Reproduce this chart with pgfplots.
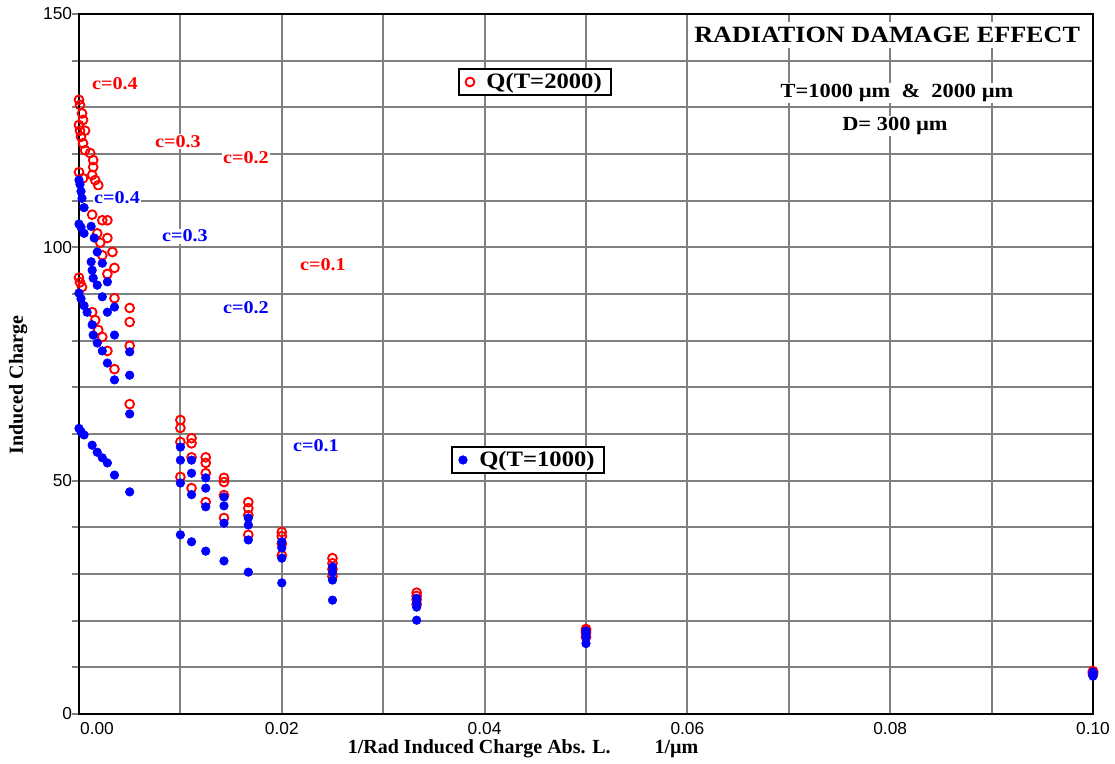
\documentclass[border=0pt]{standalone}
\usepackage{fontspec}
\setmainfont{Liberation Serif}
\newfontfamily\ticksans{Liberation Sans}
\newfontfamily\wideserif[FakeStretch=1.12]{Liberation Serif}
\usepackage{pgfplots}
\pgfplotsset{compat=1.18}
\usepackage{pgfplotstable}

\definecolor{gridgray}{RGB}{128,128,128}
\definecolor{qred}{RGB}{255,0,0}
\definecolor{qblue}{RGB}{0,0,255}

% T = 2000 (red)
\pgfplotstableread{
x y
0 131.6
0.0001 130.5
0.0003 128.7
0.0004 127.3
0.0006 125.0
0.0011 120.2
0.0014 118.7
0.0014 117.2
0.0016 114.4
0.0019 113.3
0.0023 105.8
0.0028 105.8
0.0033 99.0
0.005 87.0
0.01 63.0
0.0111 59.1
0.0125 55.0
0.0143 50.6
0.0167 45.4
0.02 39.0
0.025 33.4
0.0333 26.0
0.05 18.2
0.1 9.2
0 126.2
0.0001 125.0
0.0002 123.7
0.0004 122.3
0.0006 120.8
0.0013 115.5
0.0018 103.0
0.0021 101.0
0.0028 102.0
0.0035 95.6
0.005 84.0
0.01 61.3
0.0111 58.0
0.0125 53.8
0.0143 49.7
0.0167 44.1
0.02 38.1
0.025 32.3
0.0333 25.3
0.05 17.8
0.1 9.0
0 116.1
0.0004 114.8
0.0013 107.0
0.0023 98.3
0.0028 94.3
0.0035 89.1
0.005 78.9
0.01 58.3
0.0111 55.0
0.0125 51.6
0.0143 46.9
0.0167 42.6
0.02 36.5
0.025 31.0
0.0333 24.5
0.05 17.4
0.1 8.8
0 93.5
0.0001 92.5
0.0003 91.5
0.0013 86.1
0.0016 84.4
0.0019 82.3
0.0023 80.8
0.0028 77.8
0.0035 73.9
0.005 66.4
0.01 50.8
0.0111 48.4
0.0125 45.4
0.0143 42.0
0.0167 38.4
0.02 34.0
0.025 29.5
0.0333 23.5
0.05 16.5
0.1 8.5
}\redtab

% T = 1000 (blue)
\pgfplotstableread{
x y
0 114.4
0.0001 113.5
0.0002 112.0
0.0003 110.5
0.0005 108.5
0.0012 104.5
0.0015 102.0
0.0018 99.0
0.0023 96.6
0.0028 92.6
0.0035 87.2
0.005 77.6
0.01 57.2
0.0111 54.4
0.0125 50.6
0.0143 46.5
0.0167 42.0
0.02 36.9
0.025 31.5
0.0333 24.8
0.05 17.8
0.1 9.0
0 105.0
0.0002 104.3
0.0005 103.0
0.0012 96.9
0.0013 95.1
0.0014 93.4
0.0018 91.9
0.0023 89.4
0.0028 86.1
0.0035 81.2
0.005 72.6
0.01 54.4
0.0111 51.6
0.0125 48.4
0.0143 44.6
0.0167 40.5
0.02 35.6
0.025 30.4
0.0333 23.8
0.05 17.2
0.1 8.8
0 90.2
0.0002 89.0
0.0005 87.5
0.0008 86.1
0.0013 83.4
0.0014 81.2
0.0018 79.5
0.0023 77.8
0.0028 75.2
0.0035 71.6
0.005 64.3
0.01 49.5
0.0111 47.0
0.0125 44.4
0.0143 40.9
0.0167 37.3
0.02 33.4
0.025 28.7
0.0333 22.9
0.05 16.5
0.1 8.5
0 61.2
0.0002 60.5
0.0005 59.8
0.0013 57.6
0.0018 56.1
0.0023 54.9
0.0028 53.8
0.0035 51.2
0.005 47.6
0.01 38.4
0.0111 36.9
0.0125 34.9
0.0143 32.8
0.0167 30.4
0.02 28.1
0.025 24.4
0.0333 20.1
0.05 15.1
0.1 8.1
}\bluetab

\pgfplotsset{
  common/.style={
    width=760.5pt, height=525pt, scale only axis,
    xmin=0, xmax=0.1, ymin=0, ymax=150, clip=false,
  },
  legbox/.style={legend style={at={#1}, anchor=center, draw=black, line width=1.5pt, fill=white,
    font=\wideserif\bfseries\fontsize{16.5}{16.5}\selectfont, inner xsep=5pt, inner ysep=1pt, column sep=7pt},
    legend cell align=left},
}
\tikzset{lab/.style={fill=white, inner sep=1pt, font=\wideserif\bfseries\fontsize{13.5}{13.5}\selectfont}}

\begin{document}
\begin{tikzpicture}
\begin{axis}[common,
  axis line style={black, line width=2.2pt},
  xtick={0,0.02,0.04,0.06,0.08,0.1},
  xticklabels={\hspace*{27pt}0.00,0.02,0.04,0.06,0.08,0.10},
  minor xtick={0.01,0.03,0.05,0.07,0.09},
  ytick={0,50,100,150},
  minor ytick={10,20,30,40,60,70,80,90,110,120,130,140},
  tick pos=left,
  grid=both,
  major grid style={gridgray, line width=1.6pt},
  minor grid style={gridgray, line width=1.6pt},
  tick align=outside,
  major tick length=5pt, minor tick length=5pt,
  xtick style={draw=none},
  ytick style={gridgray, line width=1.6pt},
  /pgf/number format/assume math mode=true,
  x tick label style={inner sep=1pt},
  y tick label style={inner sep=0pt},
  tick label style={font=\ticksans\fontsize{13}{13}\selectfont},
  xlabel={1/Rad Induced Charge Abs. L.\hspace{2.2em}1/µm},
  xlabel style={font=\bfseries\fontsize{15}{15}\selectfont, at={(axis description cs:0.438,-0.050)}, anchor=center},
  ylabel={Induced Charge},
  ylabel style={font=\bfseries\fontsize{15}{15}\selectfont, at={(axis description cs:-0.060,0.47)}, anchor=center},
  legbox={(axis description cs:0.4497,0.9029)},
]
\addplot[only marks, mark=o, mark size=3.3pt, mark options={draw=qred, line width=1.4pt}] table {\redtab};
\addlegendentry{Q(T=2000)}

\node[lab, text=qred] at (axis cs:0.00355,135.0) {c=0.4};
\node[lab, text=qred] at (axis cs:0.00976,122.6) {c=0.3};
\node[lab, text=qred] at (axis cs:0.01647,119.2) {c=0.2};
\node[lab, text=qred] at (axis cs:0.02406,96.2) {c=0.1};

\node[fill=white, inner xsep=2pt, inner ysep=4pt, font=\wideserif\bfseries\fontsize{17.5}{17.5}\selectfont] at (axis description cs:0.797,0.970) {RADIATION DAMAGE EFFECT};
\node[fill=white, inner sep=1pt, font=\wideserif\bfseries\fontsize{15}{15}\selectfont] at (axis description cs:0.8067,0.887) {T=1000 µm \ \& \ 2000 µm};
\node[fill=white, inner sep=1pt, font=\wideserif\bfseries\fontsize{15}{15}\selectfont] at (axis description cs:0.8047,0.840) {D= 300 µm};

\coordinate (bbl) at (axis description cs:-0.0779,-0.07);
\coordinate (btr) at (axis description cs:1.0217,1.02);
\end{axis}

\begin{axis}[common, hide axis,
  legbox={(axis description cs:0.4428,0.3629)},
]
\addplot[only marks, mark=*, mark size=3.2pt, mark options={draw=qblue, fill=qblue, line width=0.5pt}] table {\bluetab};
\addlegendentry{Q(T=1000)}

\node[lab, text=qblue] at (axis cs:0.00375,110.6) {c=0.4};
\node[lab, text=qblue] at (axis cs:0.01045,102.4) {c=0.3};
\node[lab, text=qblue] at (axis cs:0.01647,87.0) {c=0.2};
\node[lab, text=qblue] at (axis cs:0.02337,57.4) {c=0.1};
\end{axis}
\pgfresetboundingbox
\path[use as bounding box] (bbl) rectangle (btr);
\end{tikzpicture}
\end{document}
